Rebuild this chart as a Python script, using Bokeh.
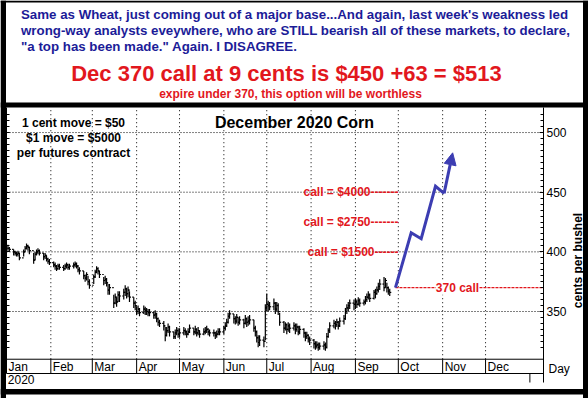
import numpy as np
import pandas as pd
from bokeh.plotting import figure
from bokeh.models import (Range1d, LinearAxis, DatetimeAxis, FixedTicker, Label, BoxAnnotation,
                          Arrow, NormalHead, DatetimeTickFormatter, ColumnDataSource)
from bokeh.core.properties import value
from bokeh.embed import file_html
from bokeh.resources import INLINE

FONT = "Liberation Sans"
RED = "#e2171d"
NAVY = "#1c1c98"
BLUE = "#3c3db2"

# ---------------- data ----------------
highs_jan = [406, 404, 402, 401, 400, 401, 399, 402, 405, 407, 406, 404, 399, 400, 402, 403, 402, 399, 399, 397, 395, 394]
lows_jan = [401, 400, 397, 397, 396, 396, 393, 396, 400, 402, 401, 398, 390, 393, 397, 398, 397, 393, 394, 392, 390, 389]
closes_jan = [403, 402, 400, 399, 398, 399, 395, 400, 403, 405, 404, 401, 393, 398, 400, 401, 399, 396, 397, 394, 392, 391]

highs_feb = [392, 391, 389, 390, 390, 389, 390, 391, 390, 390, 391, 392, 391, 389, 387, 384, 381, 383, 380, 377]
lows_feb = [387, 385, 384, 385, 385, 384, 385, 386, 385, 385, 386, 387, 386, 383, 381, 377, 375, 376, 372, 369]
closes_feb = [389, 388, 386, 388, 387, 386, 388, 389, 387, 388, 389, 390, 388, 385, 384, 380, 378, 381, 375, 372]

highs_mar = [381, 385, 388, 387, 384, 379, 380, 378, 373, 373, 364, 365, 362, 367, 367, 369, 372, 370, 371, 367, 362, 359]
lows_mar = [373, 378, 382, 381, 378, 372, 373, 371, 364, 364, 353, 356, 354, 358, 358, 360, 363, 361, 362, 358, 353, 351]
closes_mar = [379, 383, 386, 384, 381, 376, 377, 374, 368, 370, 357, 362, 358, 364, 363, 366, 369, 365, 368, 362, 357, 355]

highs_apr = [354, 355, 353, 355, 354, 353, 352, 352, 350, 351, 349, 345, 343, 342, 337, 337, 340, 338, 333, 335, 337, 336]
lows_apr = [347, 348, 346, 348, 347, 347, 346, 346, 344, 344, 341, 338, 337, 334, 325, 329, 332, 329, 327, 327, 330, 328]
closes_apr = [350, 352, 349, 352, 351, 350, 349, 349, 347, 348, 344, 341, 340, 338, 330, 334, 337, 333, 329, 332, 334, 331]

highs_may = [336, 337, 336, 334, 336, 339, 336, 338, 336, 337, 334, 336, 337, 338, 336, 335, 335, 333, 334, 336, 336]
lows_may = [328, 330, 330, 328, 330, 332, 330, 331, 329, 330, 328, 330, 331, 332, 330, 329, 329, 327, 328, 330, 330]
closes_may = [332, 334, 333, 331, 333, 336, 333, 335, 332, 334, 331, 333, 334, 335, 333, 332, 332, 330, 331, 333, 333]

highs_jun = [338, 341, 344, 349, 351, 348, 346, 348, 345, 346, 344, 347, 345, 346, 347, 343, 338, 334, 330, 330, 329, 356]
lows_jun = [331, 334, 337, 340, 344, 340, 339, 340, 338, 339, 336, 339, 337, 338, 339, 333, 329, 324, 320, 321, 320, 326]
closes_jun = [336, 338, 341, 346, 348, 344, 342, 345, 341, 343, 340, 344, 341, 342, 343, 336, 333, 328, 324, 326, 325, 353]

highs_jul = [365, 359, 358, 361, 358, 358, 357, 349, 342, 341, 340, 341, 340, 341, 340, 340, 338, 338, 336, 333, 333, 331, 329]
lows_jul = [350, 350, 351, 351, 348, 350, 347, 338, 332, 334, 331, 333, 332, 334, 331, 333, 330, 331, 328, 325, 327, 324, 322]
closes_jul = [356, 355, 354, 357, 352, 355, 350, 341, 336, 339, 335, 338, 336, 338, 335, 337, 333, 335, 332, 329, 330, 327, 326]

highs_aug = [327, 325, 325, 324, 324, 325, 324, 332, 336, 341, 343, 342, 344, 342, 345, 347, 353, 356, 358, 360, 360]
lows_aug = [319, 318, 319, 317, 318, 318, 317, 319, 328, 332, 336, 335, 337, 335, 337, 339, 343, 348, 350, 352, 351]
closes_aug = [323, 321, 322, 320, 321, 322, 320, 329, 334, 338, 340, 339, 341, 338, 342, 344, 350, 353, 355, 357, 356]

highs_sep = [361, 360, 362, 361, 360, 363, 365, 367, 365, 368, 369, 371, 374, 377, 379, 378, 374, 371, 369]
lows_sep = [352, 353, 355, 354, 355, 356, 358, 360, 358, 360, 361, 364, 366, 368, 367, 370, 366, 364, 363]
closes_sep = [358, 356, 359, 357, 358, 360, 362, 364, 361, 366, 365, 368, 371, 373, 370, 376, 370, 367, 366]

highs = highs_jan + highs_feb + highs_mar + highs_apr + highs_may + highs_jun + highs_jul + highs_aug + highs_sep
lows = lows_jan + lows_feb + lows_mar + lows_apr + lows_may + lows_jun + lows_jul + lows_aug + lows_sep
closes = closes_jan + closes_feb + closes_mar + closes_apr + closes_may + closes_jun + closes_jul + closes_aug + closes_sep

month_names = ["Jan", "Feb", "Mar", "Apr", "May", "Jun", "Jul", "Aug", "Sep", "Oct", "Nov", "Dec"]
y_ticks = [350, 400, 450, 500]
year_starts = ["2020-01-01", "2021-01-01"]

strike = 370
call_levels = [450, 425, 400]
call_labels = ["call = $4000-------", "call = $2750-------", "call = $1500------"]

proj_dates = ["2020-09-29", "2020-10-10", "2020-10-17", "2020-10-27", "2020-11-02", "2020-11-08"]
proj_values = [370, 416, 411, 455, 449, 483]

blue_lines = [
    "Same as Wheat, just coming out of a major base...And again, last week's weakness led",
    "wrong-way analysts eveywhere, who are STILL bearish all of these markets, to declare,",
    "\"a top has been made.\" Again. I DISAGREE.",
]
headline = "Dec 370 call at 9 cents is $450 +63 = $513"
subline = "expire under 370, this option will be worthless"
chart_title = "December 2020 Corn"
notes = ["1 cent move = $50", "$1 move = $5000", "per futures contract"]

# ---------------- geometry helpers (reference-pixel -> data) ----------------
JAN1 = pd.Timestamp("2020-01-01")
PX_PER_DAY = 1.43
PX_PER_CENT = 1.193


def ms(ts):
    return pd.Timestamp(ts).value / 1e6


def xd(px):
    return ms(JAN1 + pd.Timedelta(days=(px - 6) / PX_PER_DAY))


def yv(py):
    return 350 + (311 - py) / PX_PER_CENT


X_LEFT = ms(JAN1)          # left edge of the price chart
X_AXIS = xd(543)           # right price axis
Y_CHART_TOP = yv(107)
Y_BAND_BOT = yv(373)
BAND_TOP = 310

W, H = 588, 398
p = figure(width=W, height=H, x_range=Range1d(xd(0), xd(W)), y_range=Range1d(yv(H), yv(0)),
           x_axis_type="datetime", x_axis_location=None, y_axis_location=None, min_border=0,
           toolbar_location=None, output_backend="svg")
p.title.visible = False
p.grid.visible = False
p.outline_line_color = None
p.background_fill_color = "white"
p.border_fill_color = "white"

# black frame pieces
black = dict(fill_color="black", fill_alpha=1, line_color=None)
p.add_layout(BoxAnnotation(right=xd(5.5), **black))
p.add_layout(BoxAnnotation(left=xd(582.5), **black))
p.add_layout(BoxAnnotation(bottom=yv(2), **black))
p.add_layout(BoxAnnotation(top=yv(102), bottom=yv(107), **black))
p.add_layout(BoxAnnotation(top=yv(388.5), bottom=yv(394), **black))

# ---------------- top text box ----------------
p.text(x=[xd(20.5)] * 3, y=[yv(14), yv(30), yv(46)], text=blue_lines, text_font=value(FONT),
       text_font_style="bold", text_font_size="13.3px", text_color=NAVY,
       text_align="left", text_baseline="middle")
p.text(x=[xd(286)], y=[yv(73)], text=[headline], text_font=value(FONT), text_font_style="bold",
       text_font_size="22px", text_color=RED, text_align="center", text_baseline="middle")
p.text(x=[xd(290)], y=[yv(93)], text=[subline], text_font=value(FONT), text_font_style="bold",
       text_font_size="12px", text_color=RED, text_align="center", text_baseline="middle")

# ---------------- grid, band, axes ----------------
month_starts = pd.date_range("2020-01-01", periods=12, freq="MS")
month_ms = [ms(d) for d in month_starts]
sep_ms = month_ms[1:]

p.segment(x0=sep_ms, y0=[BAND_TOP] * len(sep_ms), x1=sep_ms, y1=[Y_CHART_TOP] * len(sep_ms),
          line_color="black", line_width=1, line_dash="1 3")
p.segment(x0=[X_LEFT] * len(y_ticks), y0=y_ticks, x1=[X_AXIS] * len(y_ticks), y1=y_ticks,
          line_color="black", line_width=1, line_dash="1 2")

p.segment(x0=[X_LEFT], y0=[BAND_TOP], x1=[X_AXIS], y1=[BAND_TOP], line_color="black", line_width=1)
p.segment(x0=sep_ms, y0=[Y_BAND_BOT] * len(sep_ms), x1=sep_ms, y1=[BAND_TOP] * len(sep_ms),
          line_color="black", line_width=1)
p.text(x=[m + 1.4 * 86400000 for m in month_ms], y=[303.5] * 12, text=month_names,
       text_font=value(FONT), text_font_size="12px", text_color="black",
       text_align="left", text_baseline="middle")

y_minor = list(range(320, 520, 5))
right_axis = LinearAxis(fixed_location=X_AXIS, bounds=(yv(382), Y_CHART_TOP),
                        ticker=FixedTicker(ticks=y_ticks, minor_ticks=y_minor),
                        major_tick_in=4, major_tick_out=0, minor_tick_in=3, minor_tick_out=0,
                        major_label_standoff=3, major_label_text_font=FONT,
                        major_label_text_font_size="12px", major_label_text_color="black",
                        axis_line_color="black", major_tick_line_color="black",
                        minor_tick_line_color="black")
p.add_layout(right_axis, "right")

left_axis = LinearAxis(fixed_location=X_LEFT, bounds=(Y_BAND_BOT, Y_CHART_TOP),
                       ticker=FixedTicker(ticks=y_ticks, minor_ticks=y_minor),
                       major_tick_in=3, major_tick_out=0, minor_tick_in=3, minor_tick_out=0,
                       major_label_standoff=0, major_label_text_font_size="0px",
                       major_label_overrides={t: "" for t in y_ticks},
                       axis_line_color="black", major_tick_line_color="black",
                       minor_tick_line_color="black")
p.add_layout(left_axis, "left")

yr = "%Y"
year_ms = [ms(d) for d in year_starts]
year_axis = DatetimeAxis(fixed_location=Y_BAND_BOT, bounds=(X_LEFT, X_AXIS),
                         ticker=FixedTicker(ticks=year_ms[:1], minor_ticks=[]),
                         formatter=DatetimeTickFormatter(microseconds=yr, milliseconds=yr, seconds=yr,
                                                         minsec=yr, minutes=yr, hourmin=yr, hours=yr,
                                                         days=yr, months=yr, years=yr),
                         major_tick_in=0, major_tick_out=0, minor_tick_in=0, minor_tick_out=0,
                         axis_line_color="black",
                         major_label_text_align="left", major_label_standoff=1,
                         major_label_text_font=FONT, major_label_text_font_size="12px",
                         major_label_text_color="black")
p.add_layout(year_axis, "below")
# year boundary tick below the month band
p.segment(x0=year_ms[1:], y0=[Y_BAND_BOT], x1=year_ms[1:], y1=[yv(382)], line_color="black", line_width=1)

p.text(x=[xd(548)], y=[yv(368)], text=["Day"], text_font=value(FONT), text_font_size="12px",
       text_color="black", text_align="left", text_baseline="middle")
p.text(x=[xd(577)], y=[yv(260)], text=["cents per bushel"], angle=np.pi / 2,
       text_font=value(FONT), text_font_style="bold", text_font_size="12px",
       text_color="black", text_align="center", text_baseline="middle")

# ---------------- price bars ----------------
dates = pd.bdate_range("2020-01-02", "2020-09-25")
n = min(len(dates), len(closes))
dates = dates[:n]
opens = [closes[0]] + closes[:n - 1]
tick = pd.Timedelta(hours=26)
src = ColumnDataSource(dict(date=dates, left=dates - tick, right=dates + tick,
                            hi=highs[:n], lo=lows[:n], cl=closes[:n], op=opens))
p.segment(x0="date", y0="lo", x1="date", y1="hi", source=src, line_color="black", line_width=1.2)
p.segment(x0="left", y0="op", x1="date", y1="op", source=src, line_color="black", line_width=1.2)
p.segment(x0="date", y0="cl", x1="right", y1="cl", source=src, line_color="black", line_width=1.2)

# ---------------- 370 call line and call values ----------------
proj_ms = [ms(d) for d in proj_dates]
p.segment(x0=[proj_ms[0]], y0=[strike], x1=[X_AXIS], y1=[strike], line_color=RED,
          line_width=1.3, line_dash="3 1")
p.add_layout(Label(x=xd(457), y=strike, text="370 call", text_font=FONT, text_font_style="bold",
                   text_font_size="12px", text_color=RED, text_align="center",
                   text_baseline="middle", background_fill_color="white"))
p.text(x=[xd(398)] * 3, y=call_levels, text=call_labels, text_font=value(FONT),
       text_font_style="bold", text_font_size="12px", text_color=RED,
       text_align="right", text_baseline="middle")

# ---------------- projection arrow ----------------
p.line(x=proj_ms[:-1], y=proj_values[:-1], line_color=BLUE, line_width=3, line_join="miter")
p.add_layout(Arrow(end=NormalHead(size=12, fill_color=BLUE, line_color=BLUE),
                   x_start=proj_ms[-2], y_start=proj_values[-2],
                   x_end=proj_ms[-1], y_end=proj_values[-1],
                   line_color=BLUE, line_width=3))

# ---------------- chart title and notes ----------------
p.text(x=[xd(294)], y=[yv(121.5)], text=[chart_title], text_font=value(FONT),
       text_font_style="bold", text_font_size="16px", text_color="black",
       text_align="center", text_baseline="middle")
p.text(x=[xd(73)] * 3, y=[yv(122.5), yv(137), yv(152)], text=notes, text_font=value(FONT),
       text_font_style="bold", text_font_size="12px", text_color="black",
       text_align="center", text_baseline="middle")

open("out.html", "w").write(file_html(p, INLINE))
